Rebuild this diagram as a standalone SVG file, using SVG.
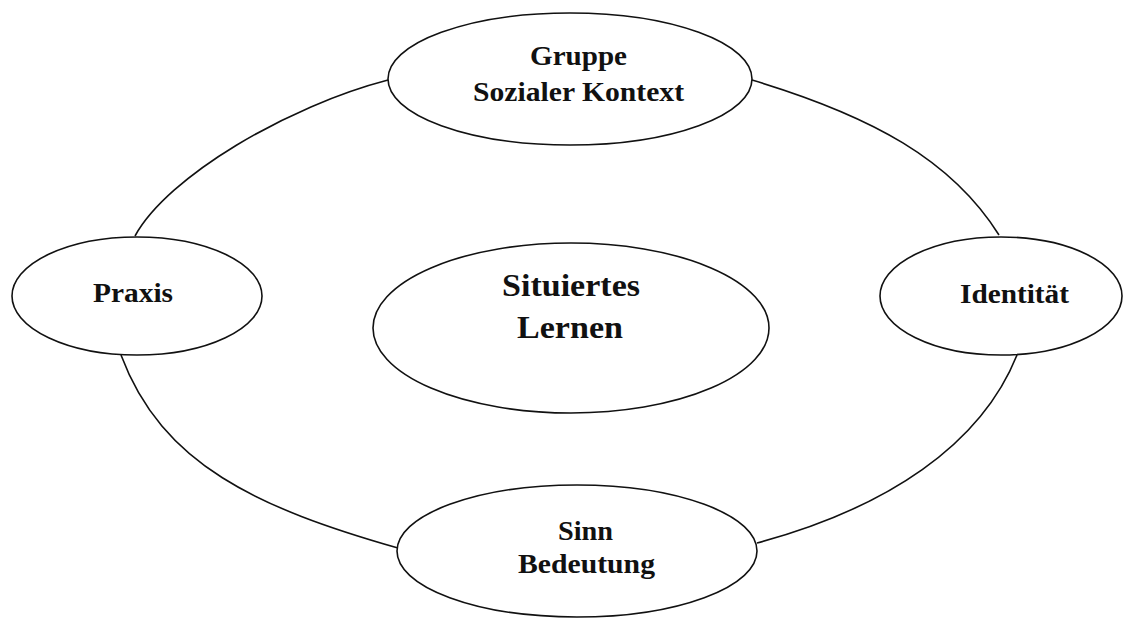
<svg xmlns="http://www.w3.org/2000/svg" width="1126" height="619" viewBox="0 0 1126 619">
<style>
.node ellipse{fill:#fff;stroke:#111;stroke-width:1.6}
.conn path{fill:none;stroke:#111;stroke-width:1.6}
text{font-family:"Liberation Serif","Times New Roman",serif;font-weight:bold;fill:#111;font-size:27px}
.big{font-size:32px}
</style>
<rect width="1126" height="619" fill="#fff"/>
<g id="connectors" class="conn">
<path d="M388,80 C288,106 168,176 135,236"/>
<path d="M752,80 C872,116 952,160 999,235"/>
<path d="M121,355 C162,465 258,508 398,548"/>
<path d="M1017,355 C981,445 887,508 757,543"/>
</g>
<g id="gruppe" class="node">
<ellipse cx="570" cy="79" rx="182" ry="66"/>
<text x="530" y="65" textLength="97" lengthAdjust="spacingAndGlyphs">Gruppe</text>
<text x="473" y="101" textLength="211" lengthAdjust="spacingAndGlyphs">Sozialer Kontext</text>
</g>
<g id="praxis" class="node">
<ellipse cx="137" cy="296" rx="125" ry="59"/>
<text x="93" y="302" textLength="80" lengthAdjust="spacingAndGlyphs">Praxis</text>
</g>
<g id="identitaet" class="node">
<ellipse cx="1001" cy="296" rx="121" ry="59"/>
<text x="960" y="303" textLength="109" lengthAdjust="spacingAndGlyphs">Identität</text>
</g>
<g id="sinn" class="node">
<ellipse cx="577" cy="551" rx="180" ry="66"/>
<text x="558" y="540" textLength="55" lengthAdjust="spacingAndGlyphs">Sinn</text>
<text x="518" y="573" textLength="137" lengthAdjust="spacingAndGlyphs">Bedeutung</text>
</g>
<g id="situiertes-lernen" class="node">
<ellipse cx="571" cy="328" rx="198" ry="85"/>
<text class="big" x="502" y="296" textLength="138" lengthAdjust="spacingAndGlyphs">Situiertes</text>
<text class="big" x="517" y="338" textLength="106" lengthAdjust="spacingAndGlyphs">Lernen</text>
</g>
</svg>
